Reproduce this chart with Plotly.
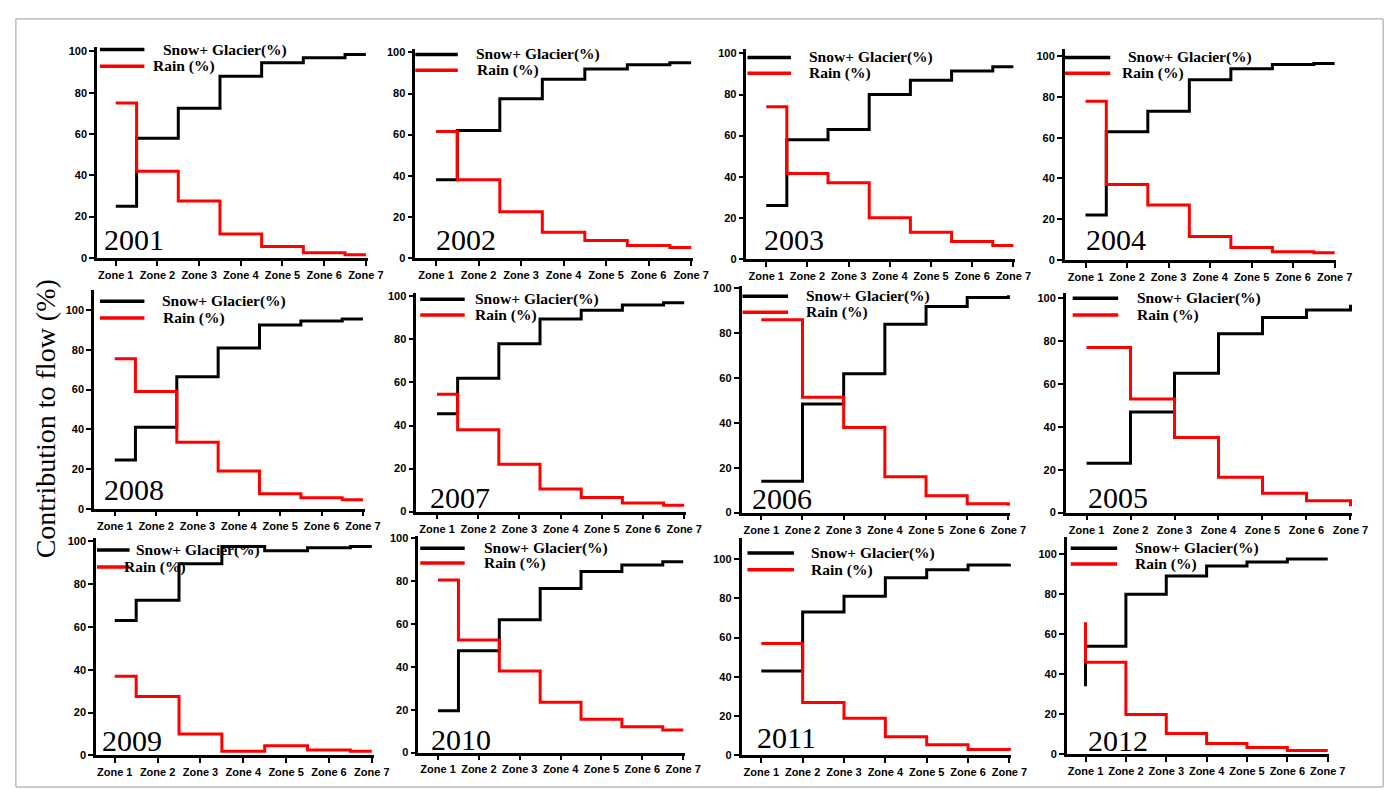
import plotly.graph_objects as go

W, H = 1399, 791

zones = ["Zone 1", "Zone 2", "Zone 3", "Zone 4", "Zone 5", "Zone 6", "Zone 7"]
zone_x = [1, 2, 3, 4, 5, 6, 7]
y_ticks = [0, 20, 40, 60, 80, 100]

# Panel order: row 1 left->right, row 2, row 3
years = ["2001", "2002", "2003", "2004",
         "2008", "2007", "2006", "2005",
         "2009", "2010", "2011", "2012"]

snow_2001 = [25, 58, 72.5, 88, 94.5, 97, 98.5]
rain_2001 = [75, 42, 27.5, 11.5, 5.5, 2.5, 1.5]
snow_2002 = [38, 62, 77.5, 87, 92, 94, 95]
rain_2002 = [61.5, 38, 22.5, 12.5, 8.5, 6, 5]
snow_2003 = [26, 58, 63, 80, 87, 91.5, 93.5]
rain_2003 = [74, 41.5, 37, 20, 13, 8.5, 6.5]
snow_2004 = [22, 63, 73, 88.5, 94, 96, 96.5]
rain_2004 = [78, 37, 27, 11.5, 6, 4, 3.5]
snow_2008 = [24.5, 41, 66.5, 81, 92.5, 94.5, 95.5]
rain_2008 = [75.5, 59, 33.5, 19, 7.5, 5.5, 4.5]
snow_2007 = [45.5, 62, 78, 89.5, 93.5, 96, 97]
rain_2007 = [54.5, 38, 22, 10.5, 6.5, 4, 3]
snow_2006 = [14, 48.5, 62, 84, 92, 96, 97]
rain_2006 = [86, 51.5, 38, 16, 7.5, 4, 3]
snow_2005 = [23, 47, 65, 83.5, 91, 94.5, 97]
rain_2005 = [77, 53, 35, 16.5, 9, 5.5, 3]
snow_2009 = [63, 72.5, 89.5, 97.5, 95.5, 97, 97.5]
rain_2009 = [37, 27.5, 10, 2, 4.5, 2.5, 2]
snow_2010 = [19.5, 47.5, 62, 76.5, 84.5, 87.5, 89]
rain_2010 = [80.5, 52.5, 38, 23.5, 15.5, 12, 10.5]
snow_2011 = [43, 73, 81, 90.5, 94.5, 97, 97.5]
rain_2011 = [57, 27, 19, 9.5, 5.5, 3, 2.5]
snow_2012 = [34, 54, 80, 89, 94, 96, 97.5]
rain_2012 = [66, 46, 20, 10.5, 5.5, 3.5, 2]

snow_series = [snow_2001, snow_2002, snow_2003, snow_2004,
               snow_2008, snow_2007, snow_2006, snow_2005,
               snow_2009, snow_2010, snow_2011, snow_2012]
rain_series = [rain_2001, rain_2002, rain_2003, rain_2004,
               rain_2008, rain_2007, rain_2006, rain_2005,
               rain_2009, rain_2010, rain_2011, rain_2012]
step_shapes = ["hvh", "hvh", "hvh", "hvh",
               "hvh", "hvh", "hv", "hv",
               "hvh", "hvh", "hv", "vh"]

legend_snow = "Snow+ Glacier(%)"
legend_rain = "Rain (%)"
y_title = "Contribution to flow (%)"

# ---- layout geometry (pixels) ----
# axis-left px, zone1 px, zone7 px, y0 px, y100 px, axis-top px
geom = [
    (90, 109, 362, 249, 40, 35),
    (412, 433, 691, 249, 41, 37),
    (747, 767, 1017, 250, 42, 37),
    (1069, 1090, 1342, 251, 45, 37),
    (87, 108, 359, 503, 302, 282),
    (413, 434, 684, 506, 288, 285),
    (742, 762, 1012, 507, 280, 278),
    (1070, 1091, 1358, 507, 290, 285),
    (89, 108, 368, 753, 536, 533),
    (415, 435, 683, 750, 533, 531),
    (742, 762, 1013, 753, 554, 533),
    (1071, 1090, 1335, 752, 549, 532),
]
# legend: line x0, line x1, snow y, rain y, snow text x, rain text x
leg = [
    (93, 138, 38, 55, 155, 145),
    (412, 455, 43, 59, 471, 472),
    (748, 792, 46, 62, 808, 808),
    (1069, 1115, 46, 62, 1131, 1125),
    (93, 138, 293, 310, 154, 155),
    (417, 462, 291, 307, 470, 470),
    (743, 789, 288, 304, 805, 805),
    (1077, 1123, 290, 307, 1140, 1140),
    (90, 123, 545, 562, 127, 115),
    (417, 462, 543, 558, 479, 479),
    (748, 795, 548, 565, 810, 810),
    (1075, 1122, 543, 559, 1138, 1138),
]
# year label left x, center y
year_pos = [
    (97, 230), (433, 230), (765, 230), (1090, 230),
    (97, 484), (427, 492), (753, 493), (1092, 492),
    (95, 738), (428, 737), (758, 735), (1092, 738),
]


def px(x):
    return x / W


def py(y):
    return 1 - y / H


fig = go.Figure()
layout = dict(
    width=W, height=H,
    margin=dict(l=0, r=0, t=0, b=0),
    paper_bgcolor="white", plot_bgcolor="white",
    showlegend=False,
)
shapes = []
annotations = []

tick_font = dict(family="Liberation Sans, Arial", size=11, color="black", weight="bold")
serif = "Liberation Serif, Times New Roman, serif"

for i in range(12):
    n = "" if i == 0 else str(i + 1)
    a, z1, z7, y0, y100, ytop = geom[i]
    u = (z7 - z1) / 6.0
    xlo = 1 - (z1 - a) / u
    xhi = 7.04
    xright = z7 + 0.04 * u
    yhi = 100.0 * (y0 - ytop) / (y0 - y100)

    layout["xaxis" + n] = dict(
        domain=[px(a), px(xright)], range=[xlo, xhi], anchor="y" + n,
        tickvals=zone_x, ticktext=zones, tickfont=tick_font,
        showline=True, linecolor="black", linewidth=2.5,
        ticks="outside", ticklen=5, tickwidth=2, tickcolor="black",
        showgrid=False, zeroline=False, fixedrange=True,
    )
    layout["yaxis" + n] = dict(
        domain=[py(y0), py(ytop)], range=[0, yhi], anchor="x" + n,
        tickvals=y_ticks, tickfont=tick_font,
        showline=True, linecolor="black", linewidth=2.5,
        ticks="outside", ticklen=5, tickwidth=2, tickcolor="black",
        showgrid=False, zeroline=False, fixedrange=True,
    )

    fig.add_trace(go.Scatter(
        x=zone_x, y=snow_series[i], mode="lines",
        line=dict(color="black", width=3, shape=step_shapes[i]),
        xaxis="x" + n, yaxis="y" + n, name=legend_snow,
    ))
    fig.add_trace(go.Scatter(
        x=zone_x, y=rain_series[i], mode="lines",
        line=dict(color="#ff0000", width=3, shape=step_shapes[i]),
        xaxis="x" + n, yaxis="y" + n, name=legend_rain,
    ))

    lx0, lx1, sy, ry, stx, rtx = leg[i]
    shapes.append(dict(type="line", xref="paper", yref="paper",
                       x0=px(lx0), x1=px(lx1), y0=py(sy), y1=py(sy),
                       line=dict(color="black", width=3.5)))
    shapes.append(dict(type="line", xref="paper", yref="paper",
                       x0=px(lx0), x1=px(lx1), y0=py(ry), y1=py(ry),
                       line=dict(color="#ff0000", width=3.5)))
    annotations.append(dict(text=legend_snow, xref="paper", yref="paper",
                            x=px(stx), y=py(sy), xanchor="left", yanchor="middle",
                            showarrow=False,
                            font=dict(family=serif, size=15.5, color="black", weight="bold")))
    annotations.append(dict(text=legend_rain, xref="paper", yref="paper",
                            x=px(rtx), y=py(ry), xanchor="left", yanchor="middle",
                            showarrow=False,
                            font=dict(family=serif, size=15.5, color="black", weight="bold")))
    yx, yy = year_pos[i]
    annotations.append(dict(text=years[i], xref="paper", yref="paper",
                            x=px(yx - 2), y=py(yy), xanchor="left", yanchor="middle",
                            showarrow=False,
                            font=dict(family=serif, size=30, color="black")))

annotations.append(dict(text=y_title, xref="paper", yref="paper",
                        x=px(38), y=py(412), xanchor="center", yanchor="middle",
                        textangle=-90, showarrow=False,
                        font=dict(family=serif, size=28, color="black")))

shapes.append(dict(type="rect", xref="paper", yref="paper",
                   x0=px(8), x1=px(1391), y0=py(785), y1=py(7),
                   line=dict(color="#9a9a9a", width=1)))

layout["shapes"] = shapes
layout["annotations"] = annotations
fig.update_layout(**layout)

fig.write_html("out.html")
